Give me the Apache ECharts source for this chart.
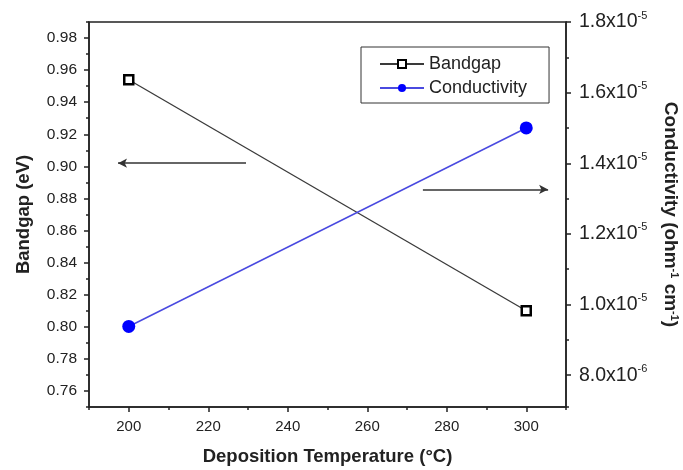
<!DOCTYPE html>
<html>
<head>
<meta charset="utf-8">
<script src="https://cdn.jsdelivr.net/npm/echarts@6/dist/echarts.min.js"></script>
<style>
  html, body { margin: 0; padding: 0; background: #fff; }
  #chart { width: 683px; height: 470px; }
</style>
</head>
<body>
<div id="chart"></div>
<script>
const temperatures = [200, 300];
const bandgap = [0.954, 0.81];
const conductivity = [9.38e-6, 1.50e-5];
const seriesNames = ['Bandgap', 'Conductivity'];
// arrows pointing to each series' axis: [x from, x to, y]
const bandgapArrow = [229.5, 197.3, 0.902];
const conductivityArrow = [274, 305.5, 1.326e-5];

const font = 'Liberation Sans, Arial, sans-serif';
const ink = '#222';

const chart = echarts.init(document.getElementById('chart'));

function sci(v) {
    const e = Math.floor(Math.log10(v) + 1e-9);
    const m = v / Math.pow(10, e);
    return '{a|' + m.toFixed(1) + 'x10}{s|' + e + '}';
}

const majorTick = { show: true, length: 5, lineStyle: { color: ink, width: 1.5 } };
const minorTick = { show: true, length: 3, lineStyle: { color: ink, width: 1.5 } };
const axisLine = { show: true, lineStyle: { color: ink, width: 1.5 } };
const nameStyle = { fontFamily: font, fontSize: 18.5, fontWeight: 'bold', color: ink };

chart.setOption({
    animation: false,
    backgroundColor: '#fff',
    grid: {
        left: 89, right: 117, top: 22, bottom: 63,
        outerBoundsMode: 'none',
        show: true, borderColor: ink, borderWidth: 1.5
    },
    legend: {
        orient: 'vertical',
        left: 361, top: 47,
        padding: [8, 22, 6, 18],
        itemGap: 6,
        itemWidth: 44, itemHeight: 10,
        itemTextGap: 5,
        borderColor: '#333', borderWidth: 1,
        textStyle: { fontFamily: font, fontSize: 18, lineHeight: 18, color: ink },
        data: seriesNames
    },
    xAxis: [
        {
            type: 'value', position: 'bottom', min: 190, max: 310, splitNumber: 6,
            name: 'Deposition Temperature (°C)', nameLocation: 'middle', nameGap: 40,
            nameTextStyle: nameStyle,
            axisLine: axisLine, axisTick: majorTick, splitLine: { show: false },
            axisLabel: { fontFamily: font, fontSize: 15, color: ink, margin: 12, showMinLabel: false, showMaxLabel: false }
        },
        {
            type: 'value', position: 'bottom', min: 190, max: 310, splitNumber: 12,
            axisLine: { show: false }, axisTick: minorTick, axisLabel: { show: false }, splitLine: { show: false }
        }
    ],
    yAxis: [
        {
            type: 'value', position: 'left', min: 0.75, max: 0.99, splitNumber: 12,
            name: 'Bandgap (eV)', nameLocation: 'middle', nameGap: 56,
            nameTextStyle: nameStyle,
            axisLine: axisLine, axisTick: majorTick, splitLine: { show: false },
            axisLabel: {
                fontFamily: font, fontSize: 15.5, color: ink, margin: 12,
                showMinLabel: false, showMaxLabel: false,
                formatter: v => v.toFixed(2)
            }
        },
        {
            type: 'value', position: 'right', min: 7.1e-6, max: 1.8e-5, splitNumber: 5,
            name: 'Conductivity (ohm{s|-1} cm{s|-1})', nameLocation: 'middle', nameGap: 95, nameRotate: -90,
            nameTextStyle: Object.assign({}, nameStyle, {
                fontSize: 19,
                rich: { s: { fontFamily: font, fontSize: 11, fontWeight: 'bold', color: ink, verticalAlign: 'top' } }
            }),
            axisLine: axisLine, axisTick: majorTick, splitLine: { show: false },
            axisLabel: {
                margin: 13, showMinLabel: false,
                formatter: sci,
                rich: {
                    a: { fontFamily: font, fontSize: 19.5, color: ink, lineHeight: 24 },
                    s: { fontFamily: font, fontSize: 11, color: ink, lineHeight: 12, verticalAlign: 'top' }
                }
            }
        },
        {
            type: 'value', position: 'left', min: 0.75, max: 0.99, splitNumber: 24,
            axisLine: { show: false }, axisTick: minorTick, axisLabel: { show: false }, splitLine: { show: false }
        },
        {
            type: 'value', position: 'right', min: 7.1e-6, max: 1.8e-5, splitNumber: 11,
            axisLine: { show: false }, axisTick: minorTick, axisLabel: { show: false }, splitLine: { show: false }
        }
    ],
    series: [
        {
            name: seriesNames[0], type: 'line', xAxisIndex: 0, yAxisIndex: 0,
            data: temperatures.map((t, i) => [t, bandgap[i]]),
            symbol: 'rect', symbolSize: 9,
            lineStyle: { color: '#3a3a3a', width: 1.3 },
            itemStyle: { color: '#fff', borderColor: '#000', borderWidth: 2.5 },
            markLine: {
                silent: true, symbol: ['none', 'arrow'], symbolSize: [7, 9],
                label: { show: false },
                lineStyle: { color: '#333', width: 1.5, type: 'solid' },
                data: [[
                    { coord: [bandgapArrow[0], bandgapArrow[2]] },
                    { coord: [bandgapArrow[1], bandgapArrow[2]] }
                ]]
            }
        },
        {
            name: seriesNames[1], type: 'line', xAxisIndex: 0, yAxisIndex: 1,
            data: temperatures.map((t, i) => [t, conductivity[i]]),
            symbol: 'circle', symbolSize: 13,
            lineStyle: { color: '#4a4ae0', width: 1.5 },
            itemStyle: { color: '#0000ff' },
            markLine: {
                silent: true, symbol: ['none', 'arrow'], symbolSize: [7, 9],
                label: { show: false },
                lineStyle: { color: '#333', width: 1.5, type: 'solid' },
                data: [[
                    { coord: [conductivityArrow[0], conductivityArrow[2]] },
                    { coord: [conductivityArrow[1], conductivityArrow[2]] }
                ]]
            }
        }
    ]
});
</script>
</body>
</html>
